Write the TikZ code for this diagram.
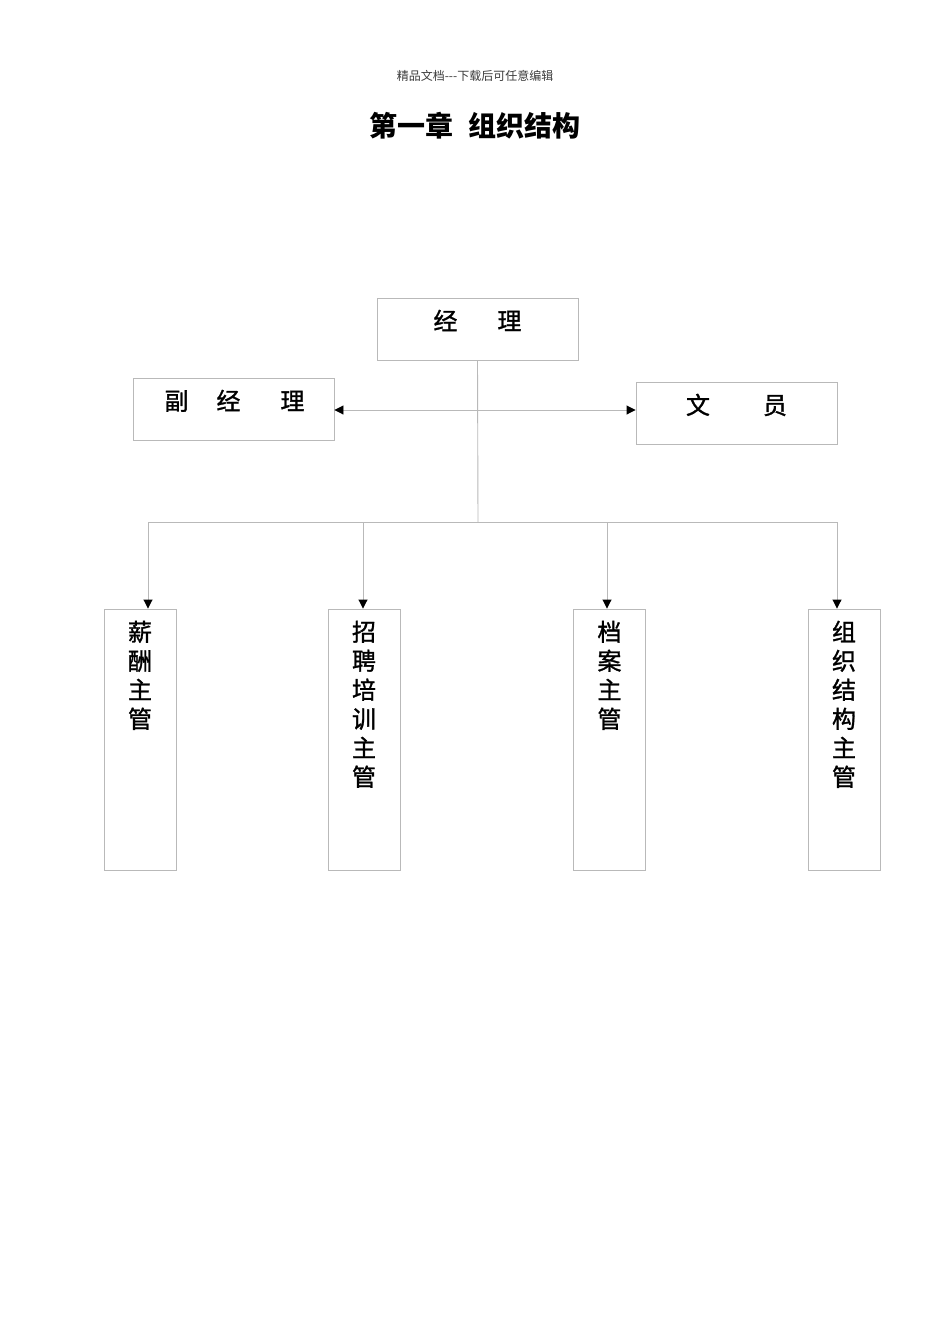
\documentclass[tikz,border=0pt]{standalone}
\usepackage{fontspec}
\setmainfont{Noto Sans CJK SC}
\newfontfamily\boxfont{Noto Sans CJK SC}[FakeBold=1.2]
\usetikzlibrary{arrows.meta}
\definecolor{boxgray}{RGB}{185,185,185}
\definecolor{headgray}{RGB}{60,60,60}
\tikzset{
  orgbox/.style={draw=boxgray, line width=0.9pt, rectangle, inner sep=0pt},
  wide/.style={orgbox, minimum width=201pt, minimum height=62pt},
  tall/.style={orgbox, minimum width=72pt, minimum height=261pt},
  conn/.style={draw=boxgray, line width=0.9pt},
  arr/.style={conn, -{Triangle[length=9pt,width=9pt,color=black]}},
  boxtext/.style={inner sep=0pt, font=\boxfont\fontsize{24}{29}\selectfont, align=center, anchor=north},
}
\begin{document}
\begin{tikzpicture}[x=1pt,y=-1pt]
\useasboundingbox[fill=white] (0,0) rectangle (950,1344);
% header and title
\node[font=\fontsize{12}{14}\selectfont, text=headgray] (head) at (475,76) {精品文档{-}{-}{-}下载后可任意编辑};
\node[font=\fontsize{28}{32}\selectfont\bfseries] (title) at (475,126) {第一章\hspace{16pt}组织结构};
% top boxes
\node[wide] (mgr) at (477.5,329) {};
\node[wide] (dep) at (233.5,409) {};
\node[wide] (clk) at (736.5,413) {};
\node[boxtext] (mgrt) at ([yshift=-12pt]mgr.north) {经\hspace{40pt}理};
\node[boxtext] (dept) at ([xshift=1pt,yshift=-12pt]dep.north) {副\hspace{28pt}经\hspace{40pt}理};
\node[boxtext] (clkt) at ([yshift=-12pt]clk.north) {文\hspace{53pt}员};
% bottom boxes
\node[tall] (b1) at (140,739.5) {};
\node[tall] (b2) at (364,739.5) {};
\node[tall] (b3) at (609.5,739.5) {};
\node[tall] (b4) at (844,739.5) {};
\node[boxtext] (b1t) at ([yshift=-12pt]b1.north) {薪\\酬\\主\\管};
\node[boxtext] (b2t) at ([yshift=-12pt]b2.north) {招\\聘\\培\\训\\主\\管};
\node[boxtext] (b3t) at ([yshift=-12pt]b3.north) {档\\案\\主\\管};
\node[boxtext] (b4t) at ([yshift=-12pt]b4.north) {组\\织\\结\\构\\主\\管};
% connectors
\coordinate (j1) at (478,410);
\coordinate (bus) at (478,522);
\coordinate (t1) at (148,522);
\coordinate (t2) at (363,522);
\coordinate (t3) at (607,522);
\coordinate (t4) at (837,522);
\draw[conn] (mgr.south) -- (bus);
\draw[arr] (j1) -- (dep.east |- j1);
\draw[arr] (j1) -- (clk.west |- j1);
\draw[conn] (t1) -- (t4);
\draw[arr] (t1) -- (t1 |- b1.north);
\draw[arr] (t2) -- (t2 |- b2.north);
\draw[arr] (t3) -- (t3 |- b3.north);
\draw[arr] (t4) -- (t4 |- b4.north);
\end{tikzpicture}
\end{document}
